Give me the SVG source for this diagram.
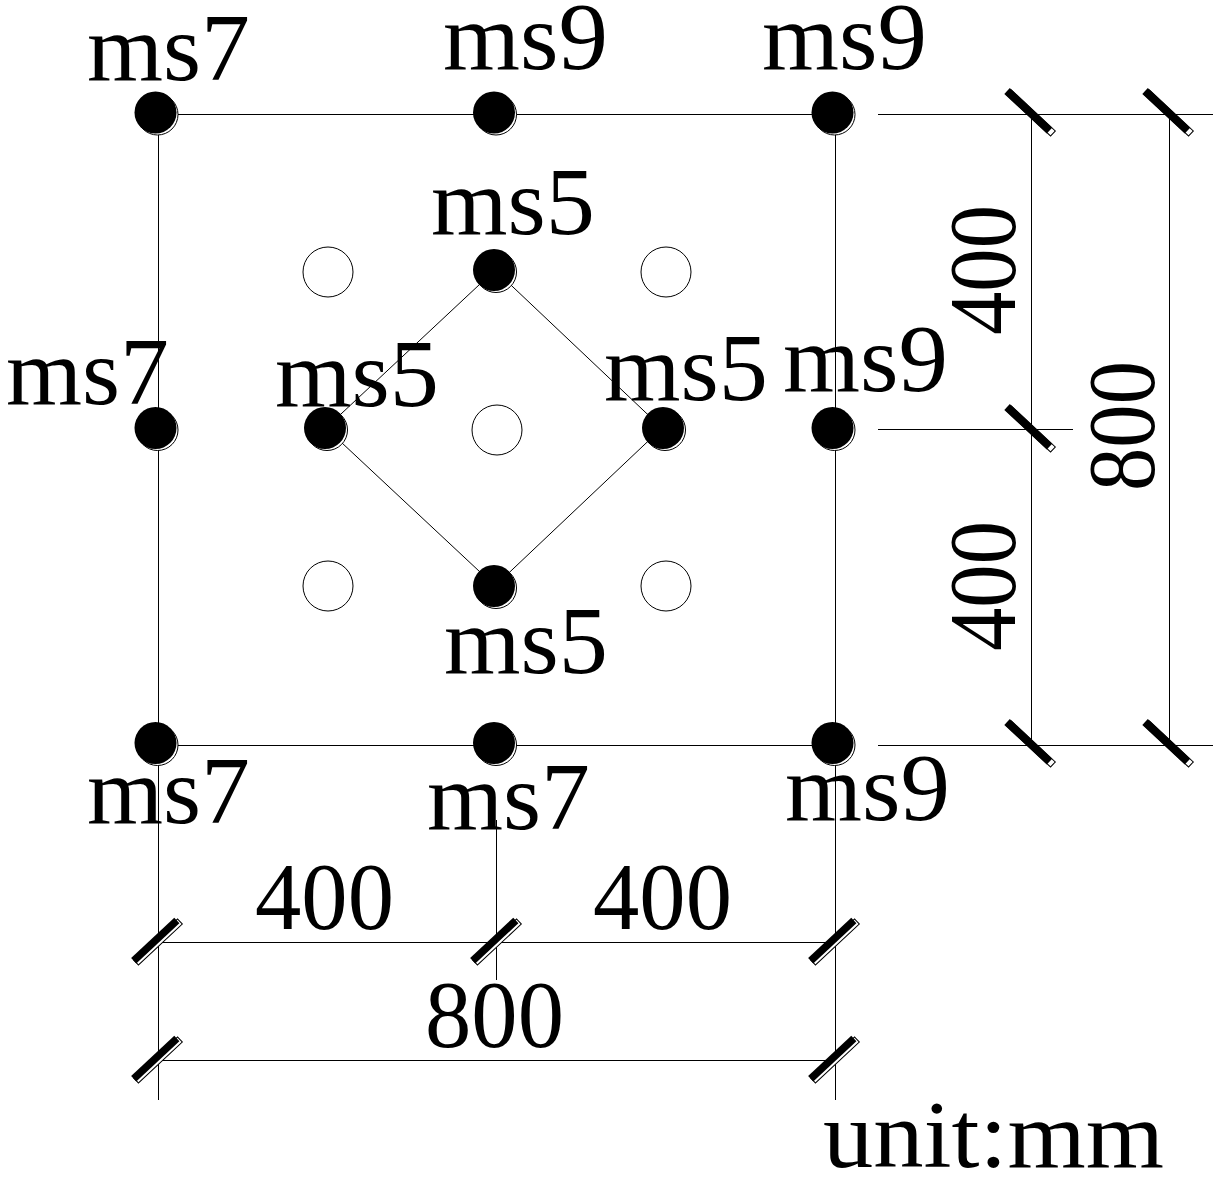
<svg xmlns="http://www.w3.org/2000/svg" xmlns:xlink="http://www.w3.org/1999/xlink" width="1229" height="1185" viewBox="0 0 1229 1185">
<style>
text{font-family:"Liberation Serif","Times New Roman",serif;font-size:96px;fill:#000}
.l{stroke:#000;stroke-width:1;fill:none}
.o{stroke:#000;stroke-width:1;fill:#fff}
.d{fill:#000;stroke:none}
</style>
<defs>
<g id="dot"><circle class="o" cx="2" cy="2" r="20.5"/><circle class="d" cx="0" cy="0" r="21"/></g>
<g id="tick"><rect class="o" x="-30" y="-3.500" width="60" height="7" transform="rotate(-43)"/><rect class="d" x="-30" y="-4" width="59" height="7.500" transform="translate(-2.2,-1.6) rotate(-43)"/></g>
<g id="tickr"><rect class="o" x="-30" y="-3.500" width="60" height="7" transform="rotate(43)"/><rect class="d" x="-30" y="-4" width="58" height="8" transform="translate(-2,-1.5) rotate(43)"/></g>
</defs>
<rect width="1229" height="1185" fill="#fff"/>
<g id="connectors">
<path class="l" d="M158.500 114.500H835.500M158.500 745.500H835.500M158.500 114V1100M835.500 114V1100"/>
<path class="l" d="M878 114.500H1213M878 745.500H1213M878 429.500H1073M1031.500 114V745M1169.500 114V745"/>
<path class="l" d="M496.500 820V980M158 942.500H835M158 1060.500H835"/>
<path class="l" d="M495 270L662 428L495 586L326 428Z"/>
</g>
<g id="ticks">
<use xlink:href="#tickr" href="#tickr" x="1031" y="113"/>
<use xlink:href="#tickr" href="#tickr" x="1169" y="113"/>
<use xlink:href="#tickr" href="#tickr" x="1031" y="429"/>
<use xlink:href="#tickr" href="#tickr" x="1031" y="744"/>
<use xlink:href="#tickr" href="#tickr" x="1169" y="744"/>
<use xlink:href="#tick" href="#tick" x="158" y="942"/>
<use xlink:href="#tick" href="#tick" x="497" y="942"/>
<use xlink:href="#tick" href="#tick" x="835" y="942"/>
<use xlink:href="#tick" href="#tick" x="158" y="1060"/>
<use xlink:href="#tick" href="#tick" x="835" y="1060"/>
</g>
<g id="n1"><use xlink:href="#dot" href="#dot" x="155.500" y="112.500"/><text x="87" y="80" textLength="163" lengthAdjust="spacingAndGlyphs">ms7</text></g>
<g id="n2"><use xlink:href="#dot" href="#dot" x="494" y="112.500"/><text x="443" y="69" textLength="165" lengthAdjust="spacingAndGlyphs">ms9</text></g>
<g id="n3"><use xlink:href="#dot" href="#dot" x="832.500" y="112.500"/><text x="762" y="69" textLength="165" lengthAdjust="spacingAndGlyphs">ms9</text></g>
<g id="n4"><use xlink:href="#dot" href="#dot" x="155.500" y="428"/><text x="6" y="404" textLength="163" lengthAdjust="spacingAndGlyphs">ms7</text></g>
<g id="n5"><use xlink:href="#dot" href="#dot" x="832.500" y="428"/><text x="783" y="391" textLength="165" lengthAdjust="spacingAndGlyphs">ms9</text></g>
<g id="n6"><use xlink:href="#dot" href="#dot" x="155.500" y="743"/><text x="87" y="823" textLength="163" lengthAdjust="spacingAndGlyphs">ms7</text></g>
<g id="n7"><use xlink:href="#dot" href="#dot" x="494" y="743"/><text x="427" y="829" textLength="163" lengthAdjust="spacingAndGlyphs">ms7</text></g>
<g id="n8"><use xlink:href="#dot" href="#dot" x="832.500" y="743"/><text x="785" y="820" textLength="165" lengthAdjust="spacingAndGlyphs">ms9</text></g>
<g id="n9"><use xlink:href="#dot" href="#dot" x="494" y="270"/><text x="431" y="234" textLength="164" lengthAdjust="spacingAndGlyphs">ms5</text></g>
<g id="n10"><use xlink:href="#dot" href="#dot" x="325" y="428"/><text x="275" y="406" textLength="164" lengthAdjust="spacingAndGlyphs">ms5</text></g>
<g id="n11"><use xlink:href="#dot" href="#dot" x="663" y="428"/><text x="604" y="400" textLength="164" lengthAdjust="spacingAndGlyphs">ms5</text></g>
<g id="n12"><use xlink:href="#dot" href="#dot" x="494" y="586"/><text x="444" y="673" textLength="164" lengthAdjust="spacingAndGlyphs">ms5</text></g>
<g id="o1"><circle class="o" cx="328" cy="272" r="25"/></g>
<g id="o2"><circle class="o" cx="666" cy="272" r="25"/></g>
<g id="o3"><circle class="o" cx="497" cy="430" r="25"/></g>
<g id="o4"><circle class="o" cx="328" cy="586" r="25"/></g>
<g id="o5"><circle class="o" cx="666" cy="586" r="25"/></g>
<g id="dims">
<text x="255" y="929" textLength="139" lengthAdjust="spacingAndGlyphs">400</text>
<text x="593" y="929" textLength="139" lengthAdjust="spacingAndGlyphs">400</text>
<text x="425" y="1047" textLength="139" lengthAdjust="spacingAndGlyphs">800</text>
<text transform="translate(1015,335) rotate(-90)" textLength="130" lengthAdjust="spacingAndGlyphs">400</text>
<text transform="translate(1015,651) rotate(-90)" textLength="130" lengthAdjust="spacingAndGlyphs">400</text>
<text transform="translate(1154,491) rotate(-90)" textLength="130" lengthAdjust="spacingAndGlyphs">800</text>
<text x="823" y="1167" textLength="341" lengthAdjust="spacingAndGlyphs">unit:mm</text>
</g>
</svg>
